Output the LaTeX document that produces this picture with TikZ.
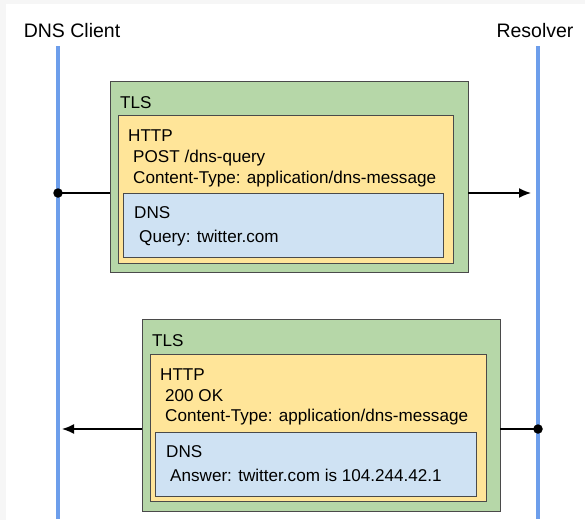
\documentclass[tikz,border=0pt]{standalone}
\usepackage{fontspec}
\setmainfont{Liberation Sans}
\usetikzlibrary{arrows.meta}
\definecolor{tlsgreen}{HTML}{B6D7A8}
\definecolor{httpyellow}{HTML}{FFE599}
\definecolor{dnsblue}{HTML}{CFE2F3}
\definecolor{lifeblue}{HTML}{6D9EEB}
\definecolor{edgegray}{HTML}{4A4A4A}
\definecolor{framegray}{HTML}{F6F6F6}
\begin{document}
\begin{tikzpicture}[x=1pt,y=-1pt,
  layer/.style={draw=edgegray,line width=1pt},
  lbl/.style={anchor=base west,inner sep=0pt,font=\fontsize{17.1}{20}\selectfont},
  title/.style={anchor=base,inner sep=0pt,font=\fontsize{19.5}{22}\selectfont},
  life/.style={draw=lifeblue,line width=3.2pt},
  msg/.style={draw=black,line width=1.5pt},
  dot/.style={circle,fill=black,inner sep=0pt,minimum size=9.5pt},
  tip/.style={-{Latex[length=12pt,width=10pt]}}]
\useasboundingbox (0,0) rectangle (585,520);
\fill[framegray] (0,0) rectangle (585,520);
\fill[white] (6,4) rectangle (585,520);

% titles
\node[title] (client) at (72,37) {DNS Client};
\node[title] (resolver) at (535,37) {Resolver};

% lifelines
\coordinate (cTop) at (58,46);
\coordinate (cBot) at (58,519);
\coordinate (rTop) at (538,46);
\coordinate (rBot) at (538,519);
\draw[life] (cTop) -- (cBot);
\draw[life] (rTop) -- (rBot);

% message 1
\draw[layer,fill=tlsgreen] (110,81) rectangle (468,272);
\draw[layer,fill=httpyellow] (118,115) rectangle (453,263);
\draw[layer,fill=dnsblue] (123,193) rectangle (443,257);
\coordinate (tls1L) at (110,193);
\coordinate (tls1R) at (468,193);
\node[lbl] (t1) at (120,108) {TLS};
\node[lbl] (h1) at (128,141) {HTTP};
\node[lbl] (p1) at (133,162) {POST /dns-query};
\node[lbl] (c1) at (133,183) {Content-Type: application/dns-message};
\node[lbl] (d1) at (134,218) {DNS};
\node[lbl] (q1) at (139,242) {Query: twitter.com};

\node[dot] (dot1) at (58,193) {};
\coordinate (tip1) at (531,193);
\draw[msg] (dot1.center) -- (tls1L);
\draw[msg,tip] (tls1R) -- (tip1);

% message 2
\draw[layer,fill=tlsgreen] (142,319) rectangle (500,511);
\draw[layer,fill=httpyellow] (150,354) rectangle (486,501);
\draw[layer,fill=dnsblue] (155,432) rectangle (476,496);
\coordinate (tls2L) at (142,429);
\coordinate (tls2R) at (500,429);
\node[lbl] (t2) at (152,346) {TLS};
\node[lbl] (h2) at (160,380) {HTTP};
\node[lbl] (p2) at (165,401) {200 OK};
\node[lbl] (c2) at (165,421) {Content-Type: application/dns-message};
\node[lbl] (d2) at (166,457) {DNS};
\node[lbl] (a2) at (170,481) {Answer: twitter.com is 104.244.42.1};

\node[dot] (dot2) at (538,429) {};
\coordinate (tip2) at (62,429);
\draw[msg] (dot2.center) -- (tls2R);
\draw[msg,tip] (tls2L) -- (tip2);
\end{tikzpicture}
\end{document}
